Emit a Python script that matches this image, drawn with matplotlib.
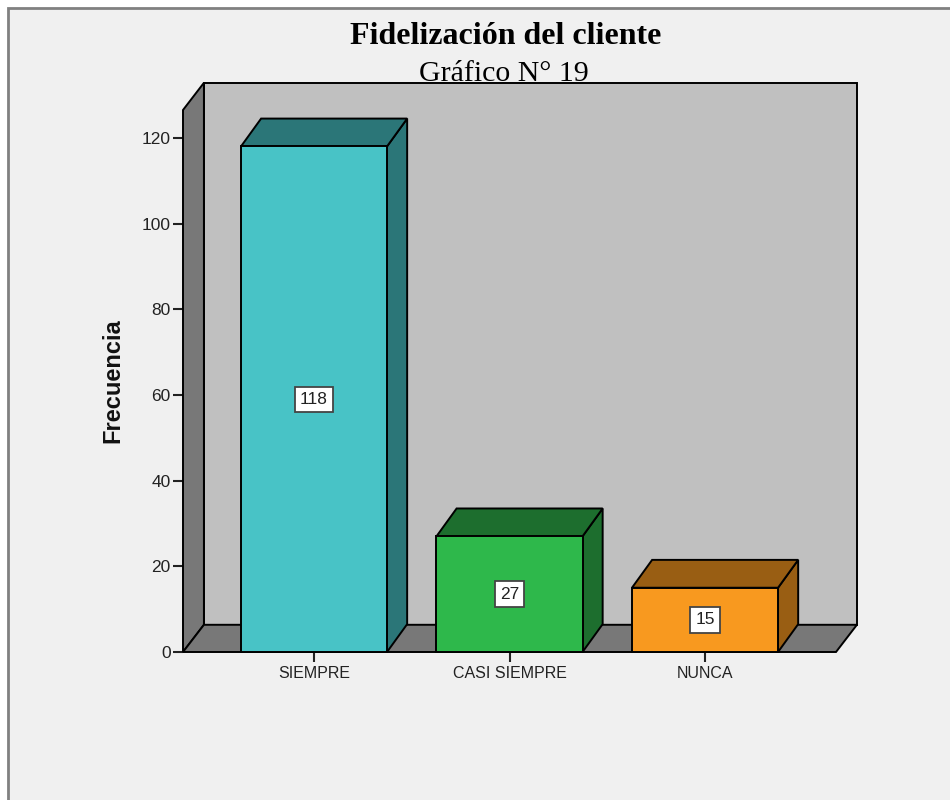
import matplotlib
matplotlib.use("Agg")
import matplotlib.pyplot as plt
from matplotlib.patches import Polygon, Rectangle

# ---- data ----
categories = ["SIEMPRE", "CASI SIEMPRE", "NUNCA"]
values = [118, 27, 15]
front_colors = ["#48c3c6", "#2eb84b", "#f8991f"]
dark_colors = ["#2b7678", "#1d6e2e", "#995e13"]
yticks = [0, 20, 40, 60, 80, 100, 120]
title = "Fidelización del cliente"
subtitle = "Gráfico N° 19"
ylabel = "Frecuencia"

sans = "Liberation Sans"

# ---- style ----
W, H = 950, 800
fig = plt.figure(figsize=(W / 100, H / 100), dpi=100, facecolor="white")
frame = Rectangle((8 / W, -0.02), 1.0, 1 - 8 / H + 0.02, transform=fig.transFigure,
                  facecolor="#f0f0f0", edgecolor="#808080", lw=2, zorder=-10)
fig.patches.append(frame)

ax = fig.add_axes([183 / W, 148 / H, 653 / W, 542 / H])
x0, x1 = -0.67, 2.67
top = 126.5
ax.set_xlim(x0, x1)
ax.set_ylim(0, top)
ax.patch.set_visible(False)
for s in ax.spines.values():
    s.set_visible(False)

dx, dy = 0.107, 6.35          # depth offset (data units)
wall_grey = "#787878"
back_grey = "#c0c0c0"
ek = dict(edgecolor="black", lw=1.4, clip_on=False, joinstyle="miter")

# back wall
ax.add_patch(Polygon([(x0 + dx, dy), (x1 + dx, dy), (x1 + dx, top + dy), (x0 + dx, top + dy)],
                     facecolor=back_grey, zorder=1, **ek))
# left wall
ax.add_patch(Polygon([(x0, 0), (x0, top), (x0 + dx, top + dy), (x0 + dx, dy)],
                     facecolor=wall_grey, zorder=2, **ek))
# floor
ax.add_patch(Polygon([(x0, 0), (x1, 0), (x1 + dx, dy), (x0 + dx, dy)],
                     facecolor=wall_grey, zorder=2, **ek))

bw = 0.747
bdx, bdy = 0.103, 6.5
for i, (v, fc, dc) in enumerate(zip(values, front_colors, dark_colors)):
    l, r = i - bw / 2, i + bw / 2
    ax.add_patch(Polygon([(r, 0), (r + bdx, bdy), (r + bdx, v + bdy), (r, v)],
                         facecolor=dc, zorder=3, **ek))
    ax.add_patch(Polygon([(l, v), (r, v), (r + bdx, v + bdy), (l + bdx, v + bdy)],
                         facecolor=dc, zorder=3, **ek))
    ax.add_patch(Polygon([(l, 0), (r, 0), (r, v), (l, v)],
                         facecolor=fc, zorder=4, **ek))
    ax.text(i, v / 2, str(v), ha="center", va="center", fontsize=12.5,
            family=sans, color="#222222", zorder=6,
            bbox=dict(boxstyle="square,pad=0.3", facecolor="white",
                      edgecolor="#444444", lw=1.3))

ax.set_yticks(yticks)
ax.set_yticklabels([str(t) for t in yticks], family=sans, fontsize=12.5,
                   color="#222222")
ax.set_xticks(range(len(categories)))
ax.set_xticklabels(categories, family=sans, fontsize=11.5, color="#222222")
ax.tick_params(axis="y", direction="out", length=7, width=1.5, pad=2, color="#222222")
ax.tick_params(axis="x", direction="out", length=7, width=1.5, pad=3, color="#222222")

ax.set_ylabel(ylabel, fontweight="bold", fontsize=17, family=sans, color="#111111")
ax.yaxis.set_label_coords(-0.09, 0.5)

fig.text(506 / W, 1 - 37 / H, title, ha="center", va="center",
         family="Liberation Serif", fontweight="bold", fontsize=23, zorder=10)
fig.text(504 / W, 1 - 74 / H, subtitle, ha="center", va="center",
         family="Liberation Serif", fontsize=21.5, zorder=10)

fig.savefig("out.png", dpi=100, facecolor=fig.get_facecolor())
